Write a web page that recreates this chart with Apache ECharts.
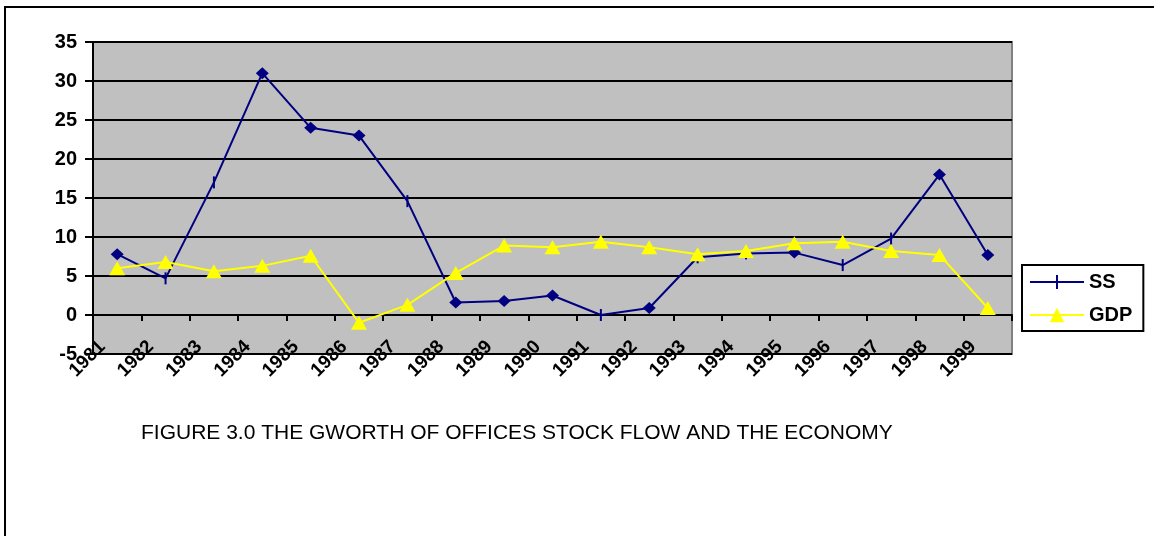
<!DOCTYPE html>
<html>
<head>
<meta charset="utf-8">
<script src="https://cdn.jsdelivr.net/npm/echarts@6/dist/echarts.min.js"></script>
<style>
html,body{margin:0;padding:0;background:#fff;}
#chart{width:1154px;height:536px;}
</style>
</head>
<body>
<div id="chart"></div>
<script>
// ---- data ----
const years = ['1981','1982','1983','1984','1985','1986','1987','1988','1989','1990',
               '1991','1992','1993','1994','1995','1996','1997','1998','1999'];
const ssValues  = [7.8, 4.7, 17.0, 31.0, 24.0, 23.0, 14.6, 1.6, 1.8, 2.5,
                   0.0, 0.9, 7.4, 7.9, 8.0, 6.4, 9.8, 18.0, 7.7];
const gdpValues = [6.0, 6.8, 5.6, 6.3, 7.6, -1.0, 1.3, 5.4, 8.9, 8.7,
                   9.4, 8.7, 7.8, 8.2, 9.2, 9.4, 8.2, 7.7, 0.9];
const yMin = -5, yMax = 35, yStep = 5;
const seriesNames = ['SS', 'GDP'];
const titleText = 'FIGURE 3.0 THE GWORTH OF OFFICES STOCK FLOW AND THE ECONOMY';

// ---- styling / option building ----
const tickMarkYears = ['1982','1983','1987','1991','1993','1994','1996','1997'];
const ssData = years.map((y, i) => tickMarkYears.includes(y)
  ? { value: ssValues[i], symbol: 'rect', symbolSize: [2, 12] }
  : { value: ssValues[i], symbol: 'diamond', symbolSize: [13, 12] });

const labelFont = { fontFamily: 'Liberation Sans, Arial', fontWeight: 'bold', color: '#000' };

const chart = echarts.init(document.getElementById('chart'), null, { renderer: 'canvas' });
chart.setOption({
  animation: false,
  backgroundColor: '#fff',
  title: {
    text: titleText,
    left: 141, top: 423, padding: 0,
    textStyle: { fontFamily: 'Liberation Sans, Arial', fontWeight: 'normal', fontSize: 21, color: '#000' }
  },
  graphic: [{
    type: 'rect', silent: true,
    shape: { x: 5, y: 7, width: 1170, height: 560 },
    style: { fill: 'none', stroke: '#000', lineWidth: 2 }
  }],
  legend: {
    orient: 'vertical', left: 1022, top: 265,
    padding: [7, 11, 6, 7],
    itemWidth: 54, itemHeight: 18, itemGap: 13,
    backgroundColor: '#fff', borderColor: '#000', borderWidth: 2, borderRadius: 0,
    textStyle: Object.assign({ fontSize: 20 }, labelFont),
    data: [
      { name: seriesNames[0], icon: 'path://M0,8 H54 V10 H0 Z M26,2 H28 V16 H26 Z' },
      { name: seriesNames[1] }
    ]
  },
  grid: {
    left: 93, right: 142, top: 42, bottom: 182,
    show: true, backgroundColor: '#C0C0C0', borderColor: '#808080', borderWidth: 2
  },
  xAxis: [{
    type: 'category', data: years, boundaryGap: true,
    axisLine: { onZero: true, lineStyle: { color: '#000', width: 2 } },
    axisTick: { show: true, inside: false, length: 6, lineStyle: { color: '#000', width: 2 } },
    axisLabel: { show: false },
    splitLine: { show: false }
  }, {
    type: 'category', data: years, boundaryGap: true, position: 'bottom',
    axisLine: { show: false, onZero: false },
    axisTick: { show: false },
    axisLabel: Object.assign({ show: true, interval: 0, rotate: 45, margin: -25, fontSize: 19,
                               padding: [0, 21, 0, 0] }, labelFont),
    splitLine: { show: false }
  }],
  yAxis: {
    type: 'value', min: yMin, max: yMax, interval: yStep,
    axisLine: { show: true, lineStyle: { color: '#000', width: 2 } },
    axisTick: { show: true, inside: false, length: 8, lineStyle: { color: '#000', width: 2 } },
    axisLabel: Object.assign({ margin: 16, fontSize: 20 }, labelFont),
    splitLine: { show: true, lineStyle: { color: '#000', width: 2 } }
  },
  series: [{
    name: seriesNames[0], type: 'line', xAxisIndex: 0,
    data: ssData,
    color: '#000080',
    lineStyle: { color: '#000080', width: 2 },
    itemStyle: { color: '#000080' },
    symbol: 'diamond', symbolSize: [13, 12], showAllSymbol: true
  }, {
    name: seriesNames[1], type: 'line', xAxisIndex: 0,
    data: gdpValues,
    color: '#FFFF00',
    lineStyle: { color: '#FFFF00', width: 2 },
    itemStyle: { color: '#FFFF00' },
    symbol: 'triangle', symbolSize: [16, 14], showAllSymbol: true
  }]
});
</script>
</body>
</html>
